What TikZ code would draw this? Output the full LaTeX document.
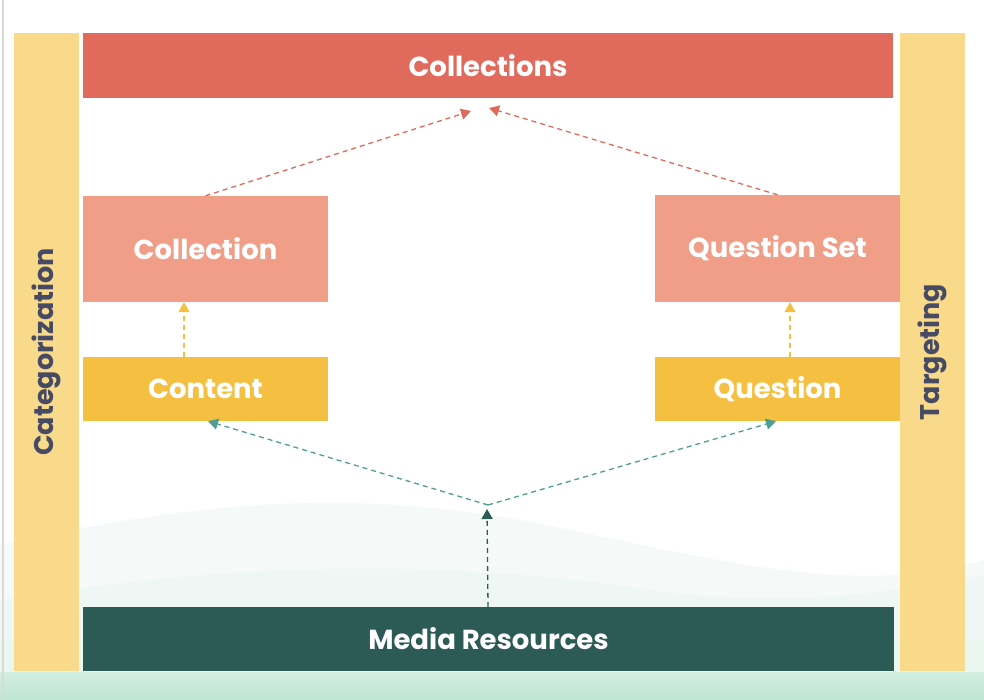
\documentclass[tikz,border=0pt]{standalone}
\usepackage{fontspec}
\setmainfont{Poppins}
\usetikzlibrary{arrows.meta}
\definecolor{barred}{HTML}{E06A5C}
\definecolor{salmon}{HTML}{F19E89}
\definecolor{gold}{HTML}{F5C042}
\definecolor{paleyellow}{HTML}{F9D98A}
\definecolor{deepgreen}{HTML}{2C5A54}
\definecolor{slate}{HTML}{474A63}
\definecolor{tealline}{HTML}{4E9E94}
\definecolor{mint}{HTML}{BFE6D3}
\definecolor{mintmid}{HTML}{D2EEE1}
\definecolor{mintpale}{HTML}{EAF6F0}
\begin{document}
\begin{tikzpicture}[x=1pt,y=-1pt,
  box/.style={rectangle, inner sep=0pt, draw=none, font=\bfseries\fontsize{27.5}{32}\selectfont, text=white},
  sidebar/.style={rectangle, inner sep=0pt, fill=paleyellow, minimum width=65pt, minimum height=638pt,
                  font=\bfseries\fontsize{27}{32}\selectfont, text=slate},
  link/.style={dashed, dash pattern=on 5pt off 4pt, line width=1.3pt,
               -{Triangle[length=10pt,width=11pt]}}
]
% canvas
\useasboundingbox (0,0) rectangle (984,700);
\fill[white] (0,0) rectangle (984,700);
% soft hills behind the lower part
\fill[mintpale, opacity=0.45] (0,545) .. controls (200,500) and (350,490) .. (520,520)
   .. controls (700,555) and (850,600) .. (984,560) -- (984,700) -- (0,700) -- cycle;
\fill[mintpale, opacity=0.6] (0,600) .. controls (250,560) and (450,560) .. (650,590)
   .. controls (800,610) and (900,590) .. (984,575) -- (984,700) -- (0,700) -- cycle;
\fill[mintpale] (0,640) -- (984,640) -- (984,700) -- (0,700) -- cycle;
\shade[top color=mintmid, bottom color=mint] (0,672) rectangle (984,700);
% left page edge
\fill[black!15] (1.5,0) rectangle (3.5,700);

% side bars
\node[sidebar] (cat) at (46,352) {\rotatebox{90}{Categorization}};
\node[sidebar] (tgt) at (932.5,352) {\rotatebox{90}{Targeting}};

% layers
\node[box, fill=barred, minimum width=810pt, minimum height=65pt] (colls) at (488,65.5) {Collections};
\node[box, fill=salmon, minimum width=245pt, minimum height=106pt] (coll) at (205.5,249) {Collection};
\node[box, fill=salmon, minimum width=245pt, minimum height=107pt] (qset) at (777.5,248.5) {Question Set};
\node[box, fill=gold, minimum width=245pt, minimum height=64pt] (content) at (205.5,389) {Content};
\node[box, fill=gold, minimum width=245pt, minimum height=64pt] (question) at (777.5,389) {Question};
\node[box, fill=deepgreen, minimum width=811pt, minimum height=64pt] (media) at (488.5,639) {Media Resources};

% connection points
\coordinate (tipL) at (471,111);
\coordinate (tipR) at (489,108);
\coordinate (hub) at (488,505);
\coordinate (hubtip) at (487,509);

% links
\draw[link, barred] (coll.north) -- (tipL);
\draw[link, barred] (qset.north) -- (tipR);
\draw[link, gold] (content.north -| 184,0) -- (coll.south -| 184,0);
\draw[link, gold] (question.north -| 790,0) -- (qset.south -| 790,0);
\draw[link, tealline] (hub) -- (content.south -| 208,0);
\draw[link, tealline] (hub) -- (question.south -| 776,0);
\draw[link, deepgreen] (media.north -| 488,0) -- (hubtip);
\end{tikzpicture}
\end{document}
